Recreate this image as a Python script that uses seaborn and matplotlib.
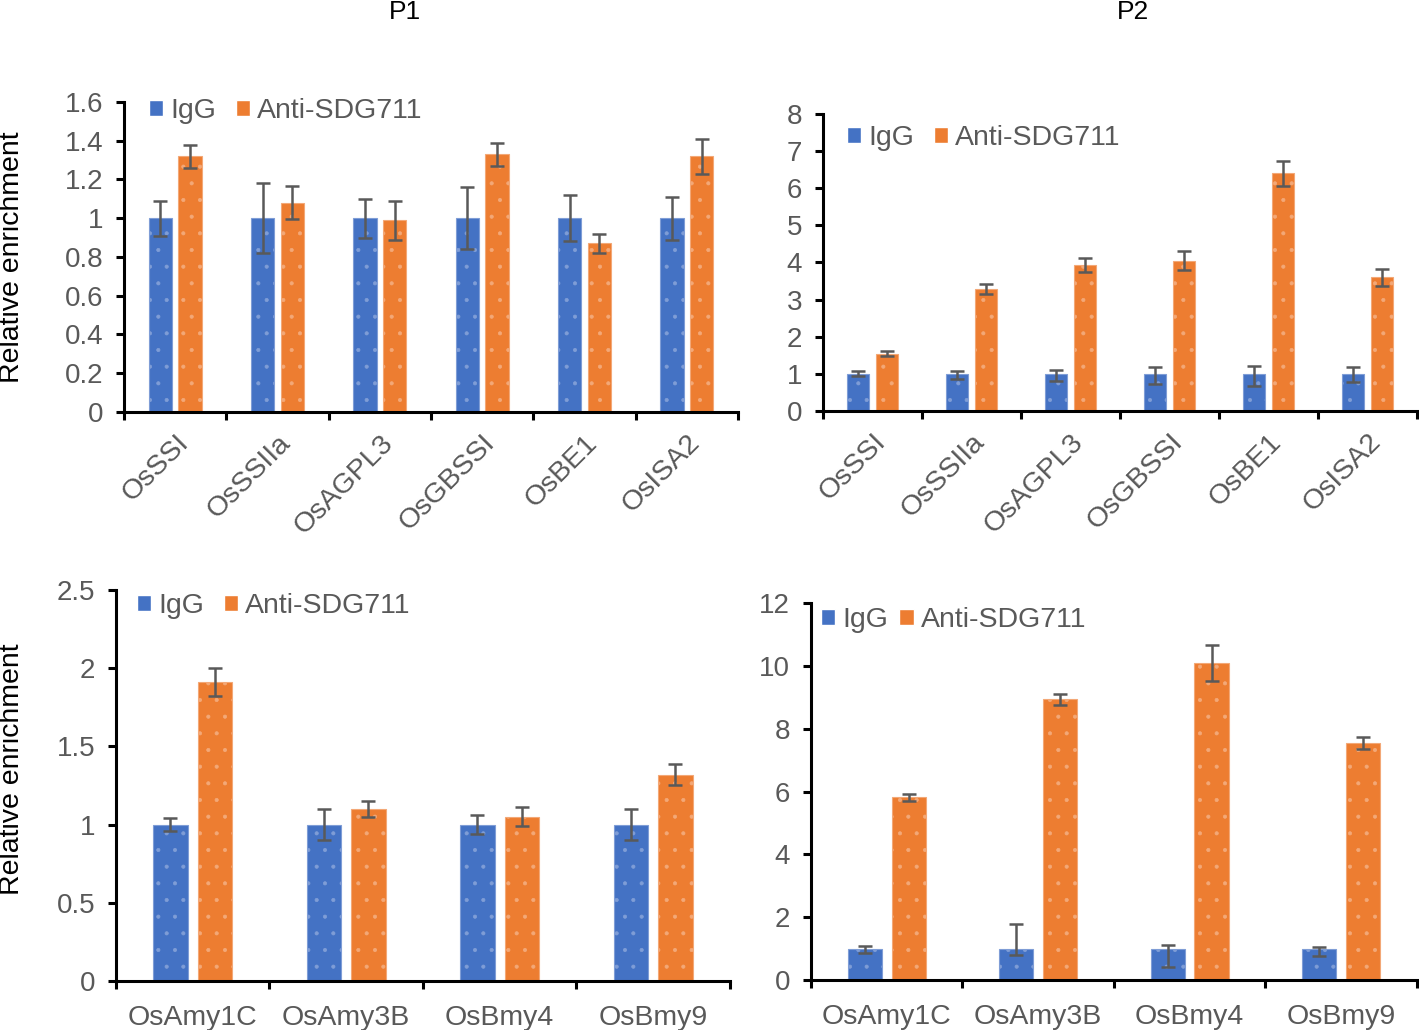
import numpy as np
import pandas as pd
import matplotlib
matplotlib.use("Agg")
import matplotlib.pyplot as plt
import seaborn as sns

# --- DATA ---
genes_top = ["OsSSI", "OsSSIIa", "OsAGPL3", "OsGBSSI", "OsBE1", "OsISA2"]
genes_bottom = ["OsAmy1C", "OsAmy3B", "OsBmy4", "OsBmy9"]

# P1, starch synthesis genes
p1_top_igg = [1, 1, 1, 1, 1, 1]
p1_top_anti = [1.32, 1.08, 0.99, 1.33, 0.87, 1.32]
p1_top_igg_lo = [0.09, 0.18, 0.10, 0.16, 0.12, 0.11]
p1_top_igg_hi = [0.09, 0.18, 0.10, 0.16, 0.12, 0.11]
p1_top_anti_lo = [0.06, 0.085, 0.10, 0.06, 0.05, 0.09]
p1_top_anti_hi = [0.06, 0.085, 0.10, 0.06, 0.05, 0.09]

# P2, starch synthesis genes
p2_top_igg = [1, 1, 1, 1, 1, 1]
p2_top_anti = [1.54, 3.28, 3.93, 4.05, 6.41, 3.60]
p2_top_igg_lo = [0.07, 0.13, 0.20, 0.27, 0.32, 0.22]
p2_top_igg_hi = [0.09, 0.09, 0.11, 0.18, 0.22, 0.18]
p2_top_anti_lo = [0.07, 0.14, 0.18, 0.25, 0.34, 0.23]
p2_top_anti_hi = [0.07, 0.15, 0.18, 0.25, 0.32, 0.22]

# P1, starch degradation genes
p1_bot_igg = [1, 1, 1, 1]
p1_bot_anti = [1.91, 1.10, 1.05, 1.32]
p1_bot_igg_lo = [0.04, 0.10, 0.06, 0.10]
p1_bot_igg_hi = [0.04, 0.10, 0.06, 0.10]
p1_bot_anti_lo = [0.09, 0.05, 0.06, 0.07]
p1_bot_anti_hi = [0.09, 0.05, 0.06, 0.07]

# P2, starch degradation genes
p2_bot_igg = [1, 1, 1, 1]
p2_bot_anti = [5.82, 8.94, 10.10, 7.55]
p2_bot_igg_lo = [0.15, 0.20, 0.60, 0.23]
p2_bot_igg_hi = [0.08, 0.78, 0.11, 0.06]
p2_bot_anti_lo = [0.11, 0.18, 0.57, 0.20]
p2_bot_anti_hi = [0.11, 0.18, 0.57, 0.20]

BLUE = "#4472C4"
ORANGE = "#ED7D31"
GREY = "#595959"

sns.set_theme(style="ticks")
plt.rcParams["font.family"] = ["Liberation Sans", "DejaVu Sans"]
plt.rcParams["hatch.linewidth"] = 0.5

fig = plt.figure(figsize=(14.19, 10.30), dpi=100)


def draw_panel(rect, genes, igg, anti, igg_lo, igg_hi, anti_lo, anti_hi,
               ymax, step, rotate, leg_xy, colspace):
    ax = fig.add_axes(rect)
    n = len(genes)
    df = pd.DataFrame({
        "gene": genes * 2,
        "value": igg + anti,
        "group": ["IgG"] * n + ["Anti-SDG711"] * n,
    })
    sns.barplot(data=df, x="gene", y="value", hue="group",
                palette={"IgG": BLUE, "Anti-SDG711": ORANGE},
                errorbar=None, width=0.58, gap=0.22, saturation=1, ax=ax)

    # faint speckle texture + pale outline like the original bars
    edge_cols = ["#7F9DD6", "#F3A877"]
    for cont, ec, lo, hi in zip(ax.containers, edge_cols,
                                [igg_lo, anti_lo], [igg_hi, anti_hi]):
        for b in cont:
            b.set_hatch(".")
            b.set_edgecolor(ec)
            b.set_linewidth(0.8)
        xs = [b.get_x() + b.get_width() / 2 for b in cont]
        ys = [b.get_height() for b in cont]
        ax.errorbar(xs, ys, yerr=[lo, hi], fmt="none", ecolor=GREY,
                    elinewidth=1.8, capsize=5, capthick=1.8, zorder=5)

    ax.set_xlim(-0.5, n - 0.5)
    ax.set_ylim(0, ymax)
    yt = np.round(np.arange(0, ymax + step / 2, step), 2)
    ax.set_yticks(yt, [f"{v:g}" for v in yt])
    ax.set_xticks(np.arange(-0.5, n, 1), [""] * (n + 1))
    if rotate:
        ax.set_xticks(np.arange(n), genes, minor=True, rotation=45,
                      ha="right", rotation_mode="anchor")
        pad = 13
    else:
        ax.set_xticks(np.arange(n), genes, minor=True)
        pad = 17
    ax.set_xlabel("")
    ax.set_ylabel("")

    ax.tick_params(axis="x", which="major", length=6, width=2.2, color="black")
    ax.tick_params(axis="x", which="minor", length=0, pad=pad,
                   labelsize=20.5, labelcolor=GREY)
    ax.tick_params(axis="y", length=6, width=2.2, color="black", pad=9,
                   labelsize=20, labelcolor=GREY)
    ax.spines[["top", "right"]].set_visible(False)
    for s in ["left", "bottom"]:
        ax.spines[s].set_linewidth(2.2)
        ax.spines[s].set_color("black")

    handles, labels = ax.get_legend_handles_labels()
    ax.legend(handles, labels, loc="upper left", bbox_to_anchor=leg_xy,
              ncol=2, frameon=False, borderpad=0, borderaxespad=0,
              handlelength=0.5, handleheight=0.5, handletextpad=0.25,
              columnspacing=colspace, labelcolor=GREY,
              prop={"size": 20.5})
    return ax


draw_panel([0.0874, 0.600, 0.4327, 0.301], genes_top,
           p1_top_igg, p1_top_anti, p1_top_igg_lo, p1_top_igg_hi,
           p1_top_anti_lo, p1_top_anti_hi, 1.6, 0.2, True, (0.04, 1.012), 0.7)
draw_panel([0.580, 0.601, 0.4186, 0.2883], genes_top,
           p2_top_igg, p2_top_anti, p2_top_igg_lo, p2_top_igg_hi,
           p2_top_anti_lo, p2_top_anti_hi, 8, 1, True, (0.04, 0.963), 0.7)
draw_panel([0.0817, 0.0476, 0.4327, 0.3796], genes_bottom,
           p1_bot_igg, p1_bot_anti, p1_bot_igg_lo, p1_bot_igg_hi,
           p1_bot_anti_lo, p1_bot_anti_hi, 2.5, 0.5, False, (0.034, 0.992), 0.7)
draw_panel([0.5715, 0.0485, 0.427, 0.366], genes_bottom,
           p2_bot_igg, p2_bot_anti, p2_bot_igg_lo, p2_bot_igg_hi,
           p2_bot_anti_lo, p2_bot_anti_hi, 12, 2, False, (0.016, 0.99), 0.4)

fig.text(12 / 1419, 0.75, "Relative enrichment", rotation=90,
         ha="center", va="center", fontsize=20.5, color="black")
fig.text(12 / 1419, 0.253, "Relative enrichment", rotation=90,
         ha="center", va="center", fontsize=20.5, color="black")
fig.text(405 / 1419, 1 - 12 / 1030, "P1", ha="center", va="center",
         fontsize=19, color="black")
fig.text(1133 / 1419, 1 - 12 / 1030, "P2", ha="center", va="center",
         fontsize=19, color="black")

fig.savefig("out.png", dpi=100)
